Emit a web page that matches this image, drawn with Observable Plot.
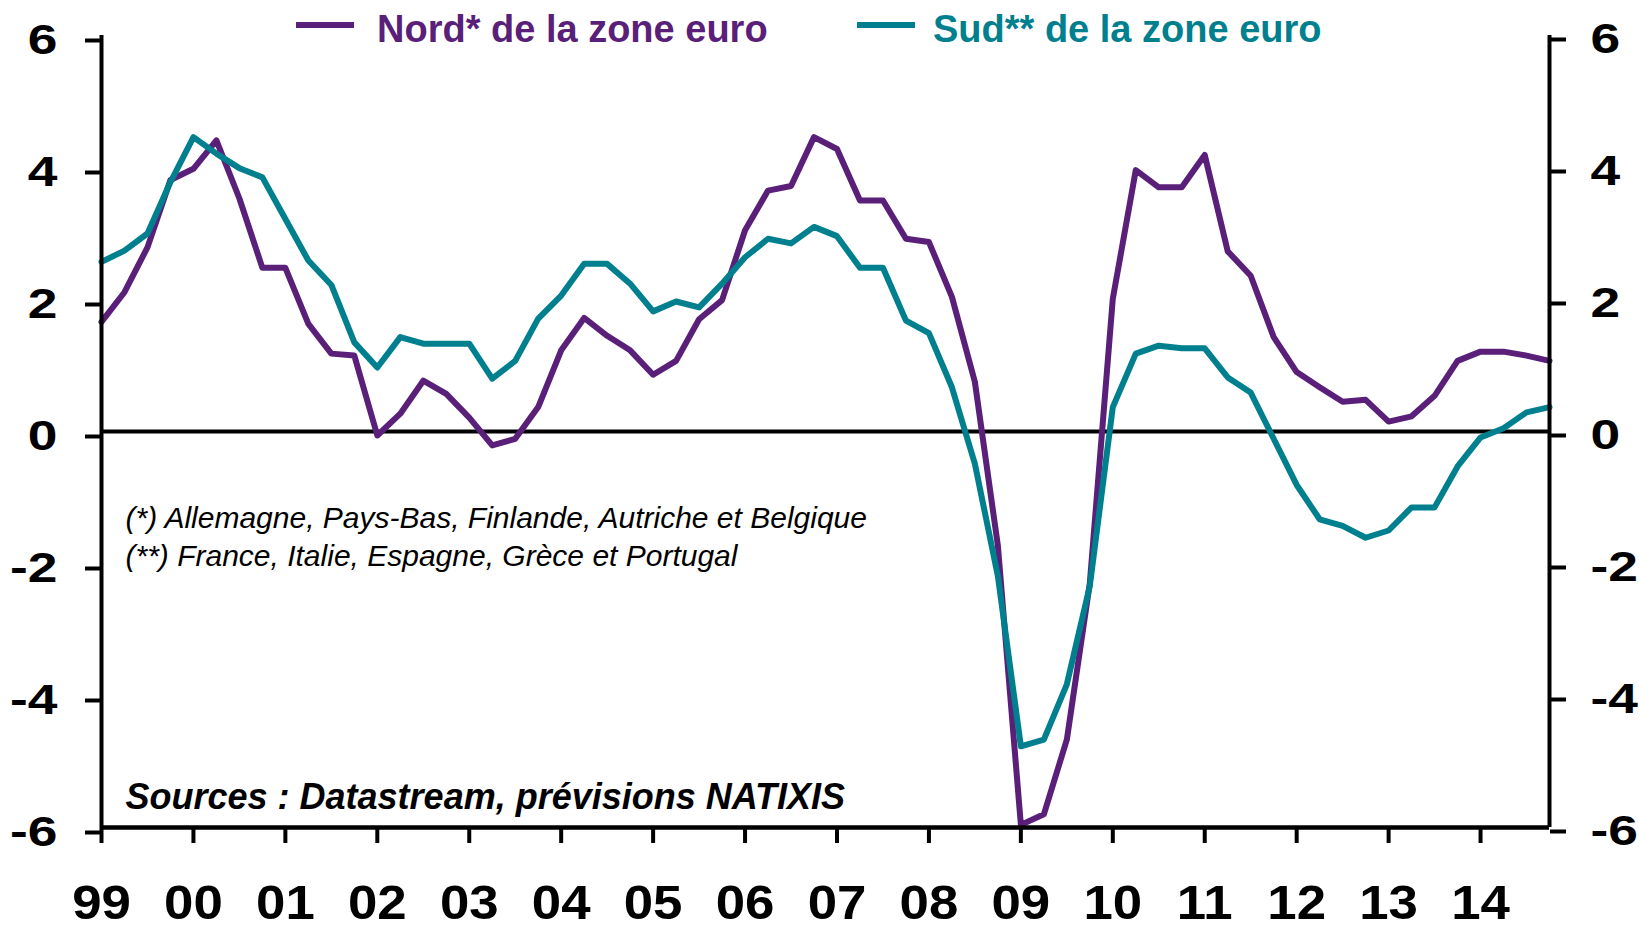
<!DOCTYPE html>
<html><head><meta charset="utf-8">
<script src="https://cdn.jsdelivr.net/npm/d3@7"></script>
<script src="https://cdn.jsdelivr.net/npm/@observablehq/plot@0.6"></script>
<style>
body{margin:0;background:#fff;}
#wrap{position:relative;width:1639px;height:929px;font-family:"Liberation Sans",Arial,sans-serif;}
.sw{position:absolute;height:6px;width:58px;top:22px;}
.lt{position:absolute;top:10px;font-size:38px;line-height:38px;font-weight:bold;white-space:nowrap;}
</style></head><body>
<div id="wrap"></div>
<script>
const startYear = 1999;
const yearTicks = [1999,2000,2001,2002,2003,2004,2005,2006,2007,2008,2009,2010,2011,2012,2013,2014];
const yearLabels = ["99","00","01","02","03","04","05","06","07","08","09","10","11","12","13","14"];
const yTicks = [-6,-4,-2,0,2,4,6];
const seriesNames = ["Nord* de la zone euro","Sud** de la zone euro"];
const seriesColors = ["#5a1f78","#00808e"];
// quarterly, 1999 T1 -> 2014 T4
const nord = [1.66,2.11,2.79,3.81, 3.98,4.41,3.53,2.48, 2.48,1.63,1.18,1.15, -0.06,0.27,0.77,0.57,
  0.21,-0.21,-0.11,0.37, 1.23,1.72,1.45,1.23, 0.86,1.07,1.70,1.99, 3.05,3.65,3.72,4.46,
  4.28,3.50,3.50,2.92, 2.87,2.04,0.75,-1.73, -5.96,-5.80,-4.67,-2.30, 2.01,3.96,3.70,3.70,
  4.19,2.73,2.36,1.43, 0.90,0.67,0.45,0.48, 0.15,0.23,0.54,1.07, 1.21,1.21,1.15,1.07];
const sud = [2.57,2.74,3.00,3.78, 4.46,4.21,3.99,3.85, 3.22,2.59,2.22,1.35, 0.97,1.43,1.33,1.33,
  1.33,0.80,1.07,1.71, 2.06,2.54,2.54,2.24, 1.82,1.97,1.88,2.24, 2.64,2.92,2.85,3.10,
  2.96,2.48,2.48,1.68, 1.49,0.67,-0.49,-2.19, -4.77,-4.67,-3.83,-2.34, 0.37,1.18,1.30,1.26,
  1.26,0.82,0.59,-0.11, -0.81,-1.33,-1.43,-1.61, -1.50,-1.15,-1.15,-0.53, -0.09,0.05,0.29,0.37];
const footnotes = ["(*) Allemagne, Pays-Bas, Finlande, Autriche et Belgique","(**) France, Italie, Espagne, Grèce et Portugal"];
const source = "Sources : Datastream, prévisions NATIXIS";

const rows = [];
nord.forEach((v, i) => rows.push({t: startYear + i / 4, v, s: seriesNames[0]}));
sud.forEach((v, i) => rows.push({t: startYear + i / 4, v, s: seriesNames[1]}));
const xEnd = startYear + (nord.length - 1) / 4;

const font = '"Liberation Sans", Arial, sans-serif';
const chart = Plot.plot({
  width: 1639, height: 929,
  marginLeft: 101, marginRight: 90, marginTop: 35, marginBottom: 102,
  style: {fontFamily: font, color: "#000", background: "#fff", overflow: "visible"},
  x: {domain: [startYear, xEnd]},
  y: {domain: [-6, 6]},
  color: {domain: seriesNames, range: seriesColors},
  marks: [
    Plot.ruleY([0], {stroke: "#000", strokeWidth: 4}),
    Plot.line(rows, {x: "t", y: "v", z: "s", stroke: "s", strokeWidth: 6}),
    Plot.ruleX([startYear], {stroke: "#000", strokeWidth: 4}),
    Plot.ruleX([xEnd], {stroke: "#000", strokeWidth: 4}),
    Plot.ruleY([-6], {stroke: "#000", strokeWidth: 4.5}),
    Plot.axisY({anchor: "left", ticks: yTicks, tickSize: 16, tickPadding: 28, fontSize: 42, fontWeight: "bold",
      strokeWidth: 4, label: null, tickFormat: d => String(d), dy: 5}),
    Plot.axisY({anchor: "right", ticks: yTicks, tickSize: 16, tickPadding: 25, fontSize: 42, fontWeight: "bold",
      strokeWidth: 4, label: null, tickFormat: d => String(d), dy: 4}),
    Plot.axisX({ticks: yearTicks, tickSize: 16, tickPadding: 41, fontSize: 48, fontWeight: "bold",
      strokeWidth: 4, label: null, tickFormat: d => yearLabels[yearTicks.indexOf(d)]}),
    Plot.text([footnotes.join("\n")], {frameAnchor: "top-left", dx: 24, dy: 465, lineAnchor: "top", textAnchor: "start",
      fontSize: 30, fontStyle: "italic", lineHeight: 1.28, fill: "#000"}),
    Plot.text([source], {frameAnchor: "top-left", dx: 24, dy: 748, lineAnchor: "top", textAnchor: "start",
      fontSize: 36, fontStyle: "italic", fontWeight: "bold", fill: "#000"})
  ]
});

function stretch(svg, sel, s) {
  svg.querySelectorAll(sel).forEach(t => {
    const tr = t.getAttribute("transform");
    if (tr) t.setAttribute("transform", tr + ` scale(${s},1)`);
    else {
      const x = parseFloat(t.getAttribute("x")) || 0;
      t.setAttribute("x", 0);
      t.setAttribute("transform", `translate(${x},0) scale(${s},1)`);
    }
  });
}
stretch(chart, 'g[aria-label="y-axis tick label"] text', 1.27);
stretch(chart, 'g[aria-label="x-axis tick label"] text', 1.1);

const wrap = document.getElementById("wrap");
wrap.appendChild(chart);
const legendPos = [{sw: 296, tx: 377}, {sw: 857, tx: 933}];
seriesNames.forEach((name, i) => {
  const sw = document.createElement("div");
  sw.className = "sw"; sw.style.left = legendPos[i].sw + "px"; sw.style.background = seriesColors[i];
  const tx = document.createElement("div");
  tx.className = "lt"; tx.style.left = legendPos[i].tx + "px"; tx.style.color = seriesColors[i];
  tx.textContent = name;
  wrap.appendChild(sw); wrap.appendChild(tx);
});
</script>
</body></html>
